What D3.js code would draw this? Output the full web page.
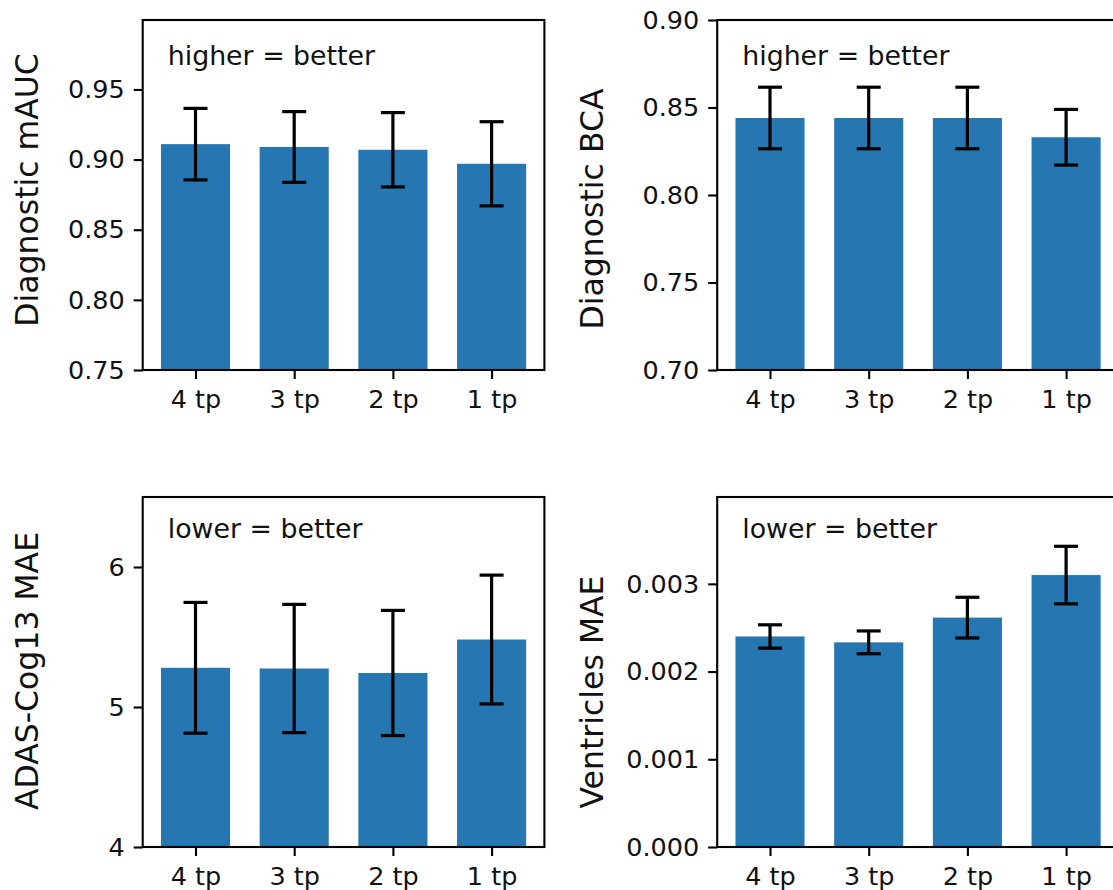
<!DOCTYPE html>
<html>
<head>
<meta charset="utf-8">
<script src="https://cdn.jsdelivr.net/npm/d3@7"></script>
<style>
  html, body { margin: 0; padding: 0; background: #fff; }
  svg { display: block; font-family: "DejaVu Sans", sans-serif; }
</style>
</head>
<body>
<svg id="chart" width="1113" height="890"></svg>
<script>
// Categories: number of timepoints used
const categories = ["4 tp", "3 tp", "2 tp", "1 tp"];

// Diagnostic mAUC (higher = better)
const mAUC = [0.911, 0.909, 0.907, 0.897];
const mAUCErr = [0.0255, 0.0252, 0.0265, 0.030];
const mAUCTicks = [0.75, 0.80, 0.85, 0.90, 0.95];

// Diagnostic BCA (higher = better)
const bca = [0.844, 0.844, 0.844, 0.833];
const bcaErr = [0.0176, 0.0176, 0.0176, 0.0159];
const bcaTicks = [0.70, 0.75, 0.80, 0.85, 0.90];

// ADAS-Cog13 MAE (lower = better)
const adas = [5.28, 5.275, 5.243, 5.482];
const adasErr = [0.467, 0.458, 0.447, 0.46];
const adasTicks = [4, 5, 6];

// Ventricles MAE (lower = better)
const vent = [0.00240, 0.002333, 0.002615, 0.00310];
const ventErr = [0.000133, 0.00013, 0.000232, 0.000328];
const ventTicks = [0, 0.001, 0.002, 0.003];

const svg = d3.select("#chart");
const BAR = "#2576b1";
const INK = "#111";
const TICK_FS = 25.5, LABEL_FS = 31.5, NOTE_FS = 26.8;
const AX_W = 401.7, AX_H = 350;
const BAR_W = 0.7;

const panels = [
  { values: mAUC, err: mAUCErr, ticks: mAUCTicks, fmt: d3.format(".2f"), domain: [0.75, 0.9995],
    label: "Diagnostic mAUC", note: "higher = better", left: 142.7, top: 20, noteY: 45, labelX: 38, labelY: 190 },
  { values: bca, err: bcaErr, ticks: bcaTicks, fmt: d3.format(".2f"), domain: [0.70, 0.90],
    label: "Diagnostic BCA", note: "higher = better", left: 717.2, top: 20, noteY: 45, labelX: 603, labelY: 209 },
  { values: adas, err: adasErr, ticks: adasTicks, fmt: d3.format("d"), domain: [4, 6.5],
    label: "ADAS-Cog13 MAE", note: "lower = better", left: 142.7, top: 497, noteY: 41, labelX: 38, labelY: 671 },
  { values: vent, err: ventErr, ticks: ventTicks, fmt: d3.format(".3f"), domain: [0, 0.00399],
    label: "Ventricles MAE", note: "lower = better", left: 717.2, top: 497, noteY: 41, labelX: 603, labelY: 692 }
];

panels.forEach(p => {
  const g = svg.append("g").attr("transform", `translate(${p.left},${p.top})`);
  const x = d3.scaleLinear().domain([-0.535, 3.535]).range([0, AX_W]);
  const y = d3.scaleLinear().domain(p.domain).range([AX_H, 0]);
  const rows = categories.map((c, i) => ({ c, i, v: p.values[i], e: p.err[i] }));

  // bars
  g.selectAll("rect.bar").data(rows).enter().append("rect")
    .attr("class", "bar")
    .attr("x", d => x(d.i - BAR_W / 2))
    .attr("width", d => x(d.i + BAR_W / 2) - x(d.i - BAR_W / 2))
    .attr("y", d => y(d.v))
    .attr("height", d => y(p.domain[0]) - y(d.v))
    .attr("fill", BAR);

  // error bars with caps
  const eb = g.selectAll("g.err").data(rows).enter().append("g").attr("class", "err")
    .attr("stroke", "#000").attr("stroke-width", 3.2);
  eb.append("line")
    .attr("x1", d => x(d.i)).attr("x2", d => x(d.i))
    .attr("y1", d => y(d.v - d.e)).attr("y2", d => y(d.v + d.e));
  eb.append("line")
    .attr("x1", d => x(d.i) - 12).attr("x2", d => x(d.i) + 12)
    .attr("y1", d => y(d.v + d.e)).attr("y2", d => y(d.v + d.e));
  eb.append("line")
    .attr("x1", d => x(d.i) - 12).attr("x2", d => x(d.i) + 12)
    .attr("y1", d => y(d.v - d.e)).attr("y2", d => y(d.v - d.e));

  // y axis
  const yAxis = d3.axisLeft(y).tickValues(p.ticks).tickFormat(p.fmt).tickSize(9).tickPadding(9);
  const ya = g.append("g").call(yAxis);
  // x axis
  const xAxis = d3.axisBottom(x).tickValues(d3.range(categories.length))
    .tickFormat(i => categories[i]).tickSize(9).tickPadding(11);
  const xa = g.append("g").attr("transform", `translate(0,${AX_H})`).call(xAxis);

  [ya, xa].forEach(a => {
    a.select(".domain").remove();
    a.selectAll(".tick line").attr("stroke", "#000").attr("stroke-width", 2.1);
    a.selectAll(".tick text").attr("fill", INK)
      .style("font-family", "'DejaVu Sans', sans-serif").style("font-size", TICK_FS + "px");
  });

  // frame
  g.append("rect").attr("x", 0).attr("y", 0).attr("width", AX_W).attr("height", AX_H)
    .attr("fill", "none").attr("stroke", "#000").attr("stroke-width", 2.1);

  // annotation
  g.append("text").attr("x", 25).attr("y", p.noteY)
    .attr("fill", INK).style("font-size", NOTE_FS + "px").text(p.note);

  // y label
  svg.append("text")
    .attr("transform", `translate(${p.labelX},${p.labelY}) rotate(-90)`)
    .attr("text-anchor", "middle")
    .attr("fill", INK).style("font-size", LABEL_FS + "px").text(p.label);
});
</script>
</body>
</html>
